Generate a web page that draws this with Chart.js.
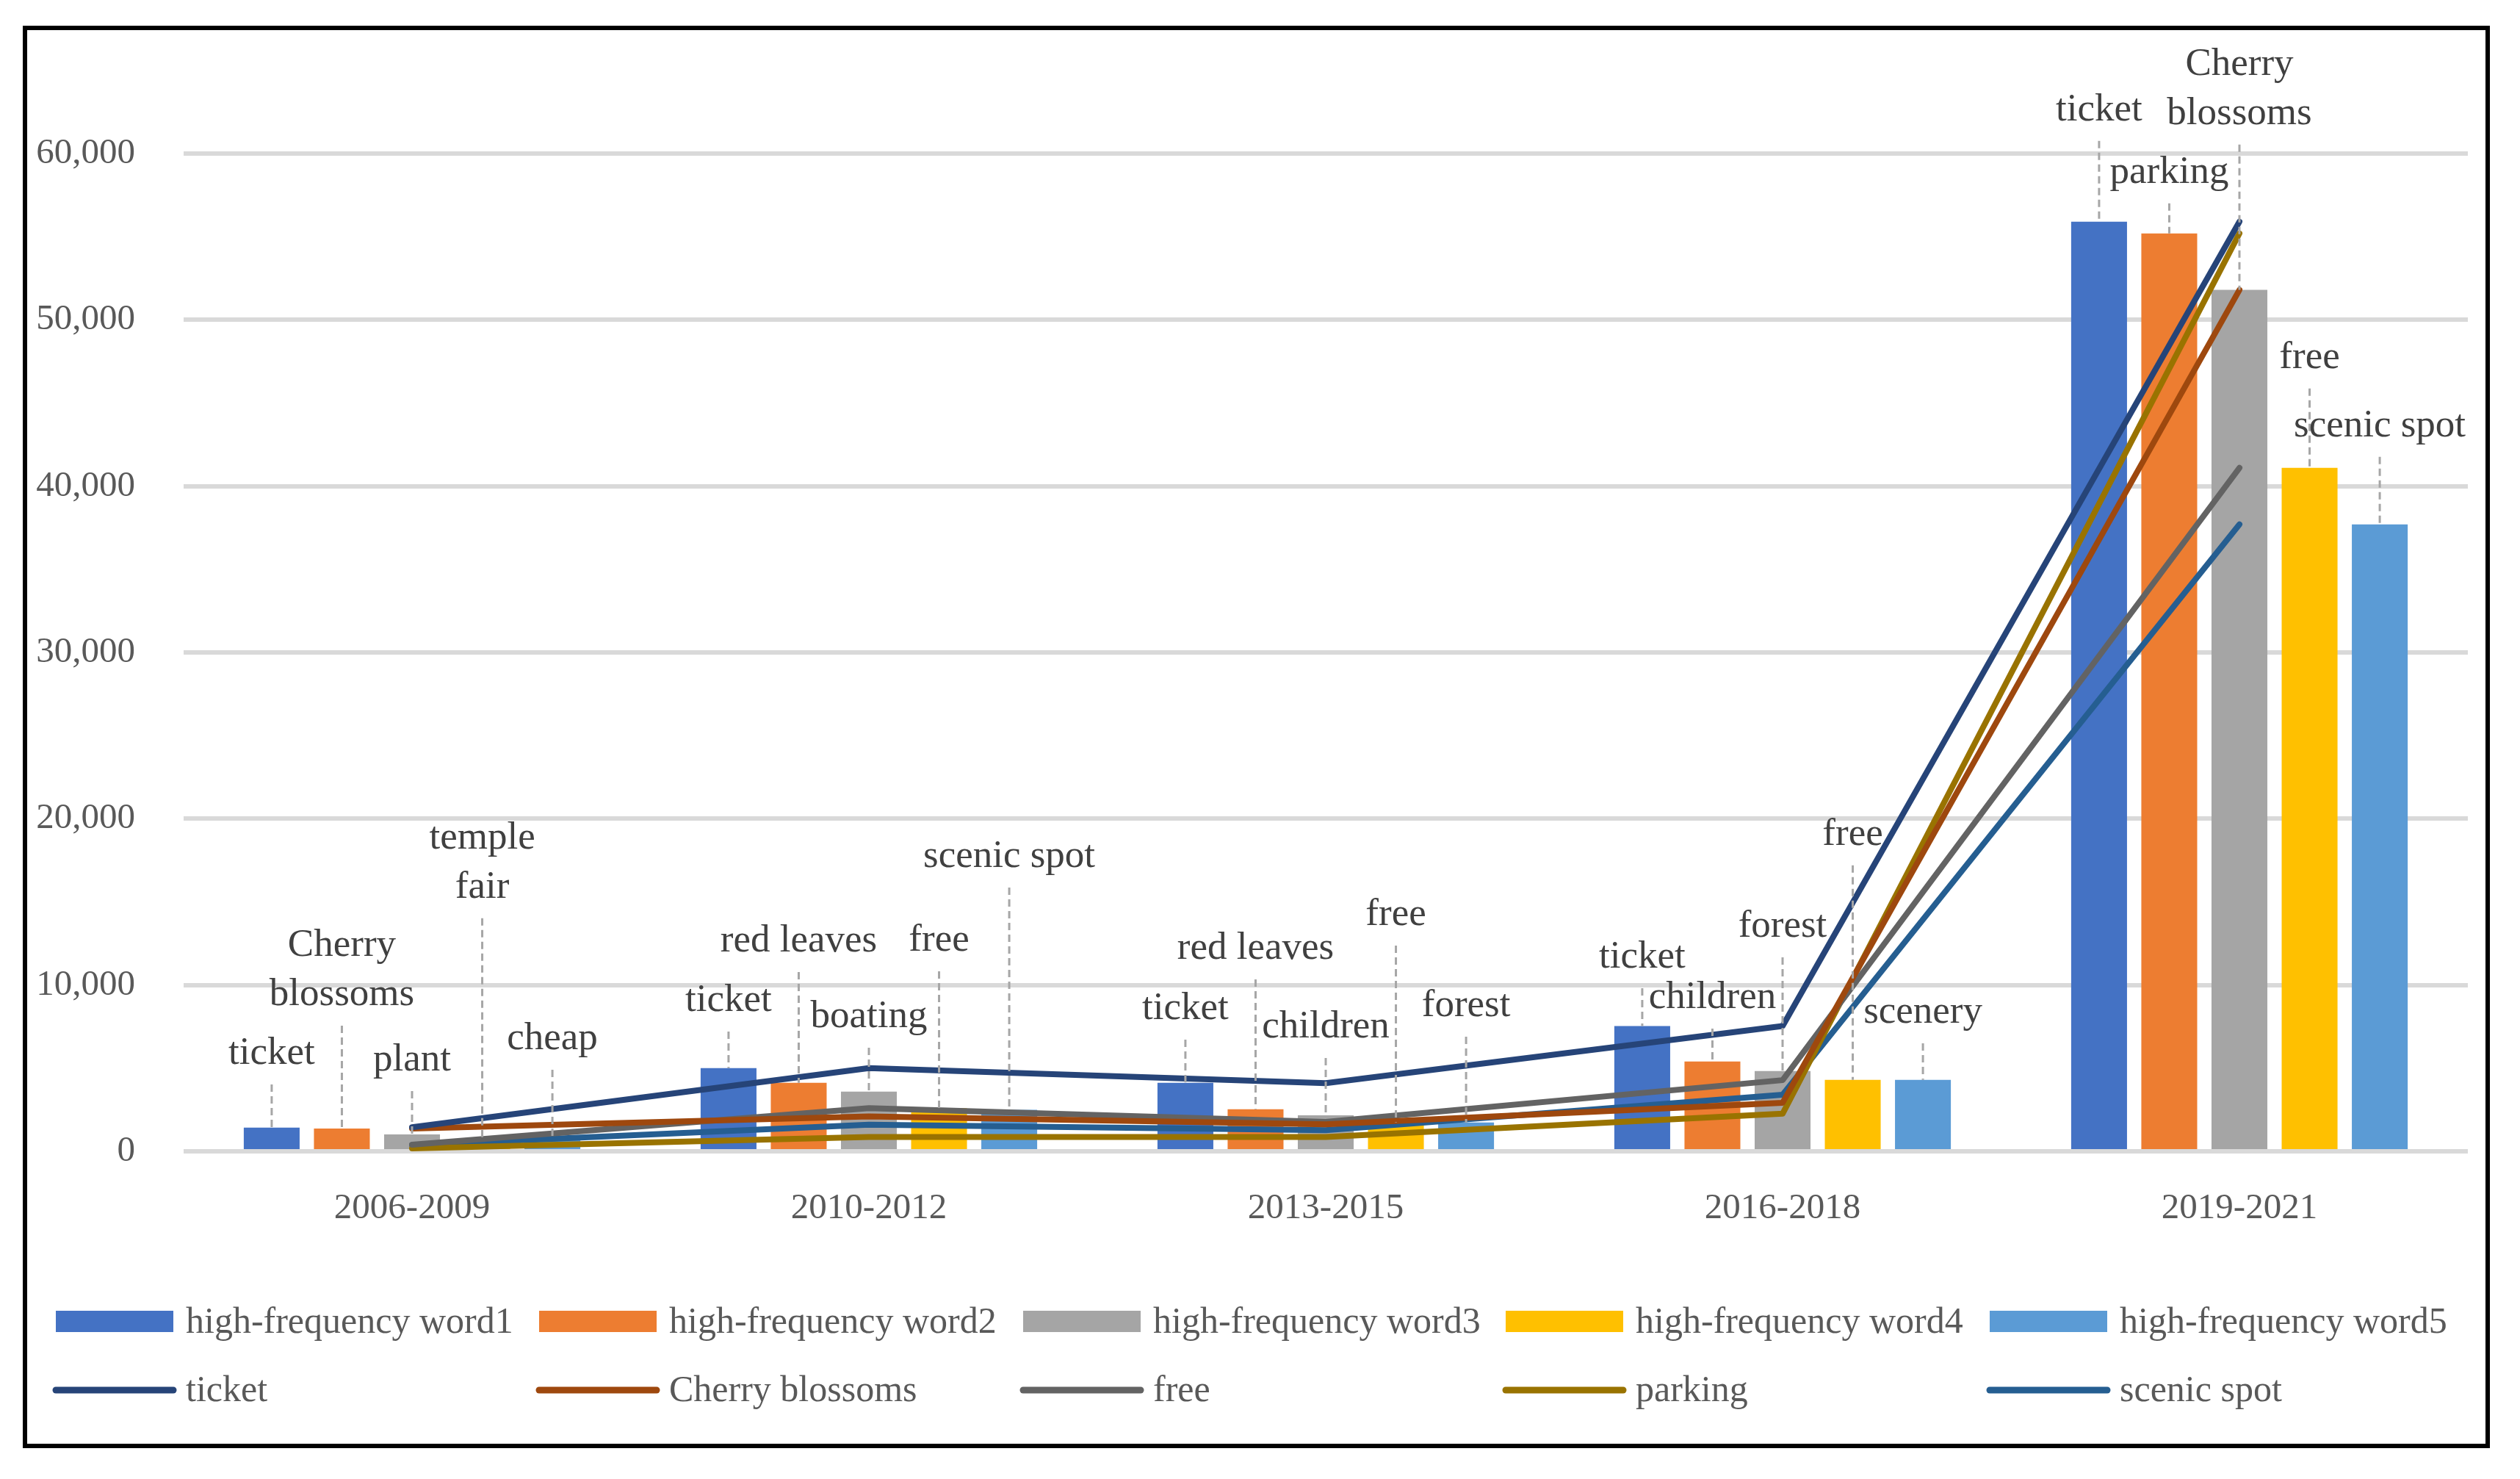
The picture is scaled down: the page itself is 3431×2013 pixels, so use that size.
<!DOCTYPE html>
<html>
<head>
<meta charset="utf-8">
<script src="https://cdn.jsdelivr.net/npm/chart.js@4.4.1/dist/chart.umd.min.js"></script>
<style>
  html, body { margin: 0; padding: 0; background: #fff; }
  #wrap { width: 3431px; height: 2013px; }
</style>
</head>
<body>
<div id="wrap"><canvas id="myChart"></canvas></div>
<script>
var periods = ['2006-2009', '2010-2012', '2013-2015', '2016-2018', '2019-2021'];

// bars: frequency of the top five words in each period
var word1 = [1420, 5000, 4120, 7530, 55900];
var word2 = [1370, 4120, 2530, 5400, 55200];
var word3 = [1020, 3590, 2160, 4830, 51800];
var word4 = [740, 2600, 1750, 4300, 41100];
var word5 = [720, 2500, 1730, 4300, 37700];

// which word each bar is
var word1Names = ['ticket', 'ticket', 'ticket', 'ticket', 'ticket'];
var word2Names = ['Cherry\nblossoms', 'red leaves', 'red leaves', 'children', 'parking'];
var word3Names = ['plant', 'boating', 'children', 'forest', 'Cherry\nblossoms'];
var word4Names = ['temple\nfair', 'free', 'free', 'free', 'free'];
var word5Names = ['cheap', 'scenic spot', 'forest', 'scenery', 'scenic spot'];

// lines: frequency of five words over time
var ticket = [1450, 5000, 4100, 7530, 55900];
var cherryBlossoms = [1370, 2100, 1620, 2920, 51800];
var free = [400, 2600, 1770, 4280, 41100];
var parking = [180, 860, 860, 2260, 55200];
var scenicSpot = [380, 1600, 1270, 3400, 37700];

var yTicks = [0, 10000, 20000, 30000, 40000, 50000, 60000];

// height (in axis units) where the bottom line of each word label sits
var word1LabelAt = [5260, 8440, 7950, 11050, 62000];
var word2LabelAt = [8790, 12020, 11580, 8620, 58240];
var word3LabelAt = [4860, 7470, 6850, 12900, 61780];
var word4LabelAt = [15250, 12060, 13610, 18430, 47110];
var word5LabelAt = [6140, 17100, 8130, 7730, 43000];

var allNames = [word1Names, word2Names, word3Names, word4Names, word5Names];
var allLabelAt = [word1LabelAt, word2LabelAt, word3LabelAt, word4LabelAt, word5LabelAt];

var serif = "'Liberation Serif', 'DejaVu Serif', serif";

function barSet(label, data, color) {
  return {
    type: 'bar', label: label, data: data, backgroundColor: color,
    order: 2, categoryPercentage: 0.768, barPercentage: 0.796
  };
}
function lineSet(label, data, color) {
  return {
    type: 'line', label: label, data: data, borderColor: color, backgroundColor: color,
    borderWidth: 8, pointRadius: 0, tension: 0, order: 1,
    borderCapStyle: 'round', borderJoinStyle: 'round'
  };
}

var wordLabels = {
  id: 'wordLabels',
  afterDatasetsDraw: function (chart) {
    var ctx = chart.ctx;
    var yScale = chart.scales.y;
    ctx.save();
    ctx.font = '53px ' + serif;
    ctx.textAlign = 'center';
    ctx.textBaseline = 'alphabetic';
    for (var d = 0; d < 5; d++) {
      var meta = chart.getDatasetMeta(d);
      meta.data.forEach(function (bar, i) {
        var lines = allNames[d][i].split('\n');
        var base = yScale.getPixelForValue(allLabelAt[d][i]);
        ctx.fillStyle = '#404040';
        for (var k = 0; k < lines.length; k++) {
          ctx.fillText(lines[k], bar.x, base - (lines.length - 1 - k) * 67);
        }
        var start = base + 28;
        if (bar.y > start) {
          ctx.strokeStyle = '#A6A6A6';
          ctx.lineWidth = 3;
          ctx.setLineDash([10, 6]);
          ctx.beginPath();
          ctx.moveTo(bar.x, start);
          ctx.lineTo(bar.x, bar.y);
          ctx.stroke();
          ctx.setLineDash([]);
        }
      });
    }
    ctx.restore();
  }
};

var gridLegend = {
  id: 'gridLegend',
  afterDraw: function (chart) {
    var ctx = chart.ctx;
    var cols = [76, 734, 1393, 2050, 2709];
    var rows = [1799, 1892];
    ctx.save();
    ctx.font = '50px ' + serif;
    ctx.textBaseline = 'middle';
    ctx.textAlign = 'left';
    chart.data.datasets.forEach(function (ds, i) {
      var x = cols[i % 5];
      var y = rows[Math.floor(i / 5)];
      if (ds.type === 'bar') {
        ctx.fillStyle = ds.backgroundColor;
        ctx.fillRect(x, y - 15, 160, 29);
      } else {
        ctx.strokeStyle = ds.borderColor;
        ctx.lineWidth = 9;
        ctx.lineCap = 'round';
        ctx.beginPath();
        ctx.moveTo(x, y);
        ctx.lineTo(x + 160, y);
        ctx.stroke();
      }
      ctx.fillStyle = '#595959';
      ctx.fillText(ds.label, x + 177, y + 2);
    });
    // frame round the whole chart
    ctx.strokeStyle = '#000';
    ctx.lineWidth = 6;
    ctx.strokeRect(34, 38, 3353, 1930);
    ctx.restore();
  }
};

var ctx = document.getElementById('myChart').getContext('2d');
var myChart = new Chart(ctx, {
  data: {
    labels: periods,
    datasets: [
      barSet('high-frequency word1', word1, '#4472C4'),
      barSet('high-frequency word2', word2, '#ED7D31'),
      barSet('high-frequency word3', word3, '#A5A5A5'),
      barSet('high-frequency word4', word4, '#FFC000'),
      barSet('high-frequency word5', word5, '#5B9BD5'),
      lineSet('ticket', ticket, '#264478'),
      lineSet('Cherry blossoms', cherryBlossoms, '#9E480E'),
      lineSet('free', free, '#636363'),
      lineSet('parking', parking, '#997300'),
      lineSet('scenic spot', scenicSpot, '#255E91')
    ]
  },
  options: {
    responsive: true,
    maintainAspectRatio: false,
    devicePixelRatio: 1,
    animation: false,
    layout: { padding: { top: 209, right: 71, left: 0, bottom: 0 } },
    plugins: {
      legend: { display: false },
      tooltip: { enabled: false }
    },
    scales: {
      x: {
        offset: true,
        grid: { display: false },
        border: { display: false },
        ticks: { color: '#595959', font: { family: serif, size: 49 }, padding: 41 },
        afterFit: function (s) { s.height = 446; }
      },
      y: {
        min: 0,
        max: 60000,
        afterBuildTicks: function (s) { s.ticks = yTicks.map(function (v) { return { value: v }; }); },
        grid: { color: '#D9D9D9', lineWidth: 6, drawTicks: false },
        border: { display: false },
        ticks: {
          color: '#595959', font: { family: serif, size: 49 }, padding: 66,
          callback: function (v) { return v.toLocaleString('en-US'); }
        },
        afterFit: function (s) { s.width = 250; }
      }
    }
  },
  plugins: [wordLabels, gridLegend]
});
</script>
</body>
</html>
